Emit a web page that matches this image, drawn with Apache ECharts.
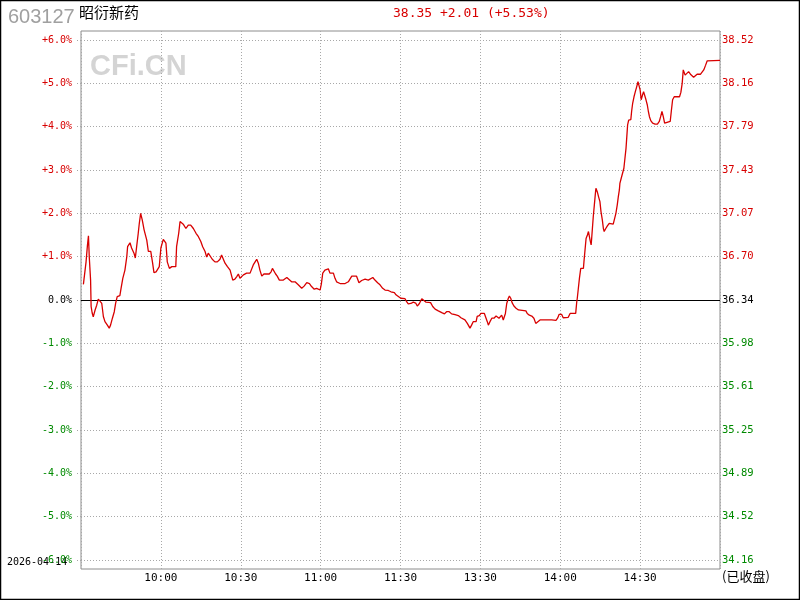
<!DOCTYPE html>
<html>
<head>
<meta charset="utf-8">
<script src="https://cdn.jsdelivr.net/npm/echarts@6/dist/echarts.min.js"></script>
<style>
html,body{margin:0;padding:0;background:#fff;}
#c{width:800px;height:600px;}
</style>
</head>
<body>
<div id="c"></div>
<script>
// ---- data ----
const stockCode = '603127';
const stockName = '昭衍新药';
const quoteText = '38.35 +2.01 (+5.53%)';
const dateText = '2026-04-14';
const statusText = '(已收盘)';
const prevClose = 36.34;

// minutes since 09:30 (trading minutes, 11:30 == 13:00 == 120)
const minutes = [0.9,1.9,2.4,2.8,3.1,3.6,3.8,4.2,4.6,5.3,5.9,6.5,7.1,7.8,8.4,9.0,9.9,10.6,11.1,11.8,12.5,13.0,13.6,14.6,15.0,15.7,16.5,17.2,17.5,18.4,19.0,19.9,20.4,20.9,21.5,21.9,22.4,22.8,23.0,23.7,24.3,24.7,25.3,26.2,26.9,27.4,28.2,28.8,29.4,30.0,30.9,31.5,31.9,32.4,33.2,34.1,34.7,35.6,35.9,36.7,37.2,37.8,38.4,39.4,40.3,41.2,42.2,43.2,44.1,45.0,45.7,46.6,47.2,47.8,48.5,49.3,50.3,51.2,52.2,52.8,53.4,54.1,55.0,56.0,57.0,57.8,58.5,59.1,59.7,60.4,61.0,62.2,63.5,64.1,64.7,65.4,66.0,66.6,67.2,67.9,68.7,70.7,71.4,71.9,72.5,73.1,73.7,74.5,
76.0,77.3,77.9,79.1,80.4,81.6,82.9,83.8,84.8,85.8,86.6,87.6,88.5,89.1,89.8,90.3,90.8,91.6,92.3,92.9,93.5,94.8,95.4,96.0,97.3,99.2,100.4,101.0,101.7,103.5,104.4,105.4,106.7,107.9,108.5,109.6,110.4,111.4,112.3,113.3,114.2,115.4,116.4,117.7,118.3,119.2,120.1,120.8,121.7,122.3,122.9,123.9,124.8,125.7,126.3,127.1,128.0,128.6,129.6,131.3,132.1,133.0,134.2,135.5,136.5,137.3,138.3,139.2,140.5,141.7,142.7,143.4,144.2,145.1,146.1,
146.7,147.3,148.4,148.8,149.6,150.2,150.9,151.5,152.1,152.6,153.0,153.6,154.3,155.1,155.9,156.5,157.0,157.4,158.0,158.6,159.0,159.4,159.9,160.5,160.9,161.4,161.9,162.6,163.4,164.3,164.9,167.1,167.6,168.4,169.3,170.1,170.8,171.4,172.4,176.8,178.4,179.0,179.6,180.5,181.1,181.8,183.0,183.7,185.8,186.2,
186.4,186.8,187.2,187.7,188.7,188.9,189.3,189.7,190.2,190.6,191.2,191.6,191.8,192.4,192.8,193.2,193.4,193.9,194.4,194.9,195.3,195.8,196.2,196.5,197.1,197.7,198.4,199.9,200.6,200.9,201.4,201.8,202.2,202.4,202.9,203.5,203.9,204.3,204.7,205.0,205.3,205.7,206.5,206.8,207.2,207.7,208.2,208.7,209.2,209.6,210.0,210.4,210.9,211.3,211.8,212.2,212.7,213.1,213.5,214.0,214.7,215.6,216.5,217.2,217.7,218.2,218.7,219.2,219.7,221.3,221.7,222.2,222.8,223.5,223.8,224.3,224.8,225.3,225.8,226.2,226.6,226.9,227.6,228.2,228.9,229.5,230.1,230.8,231.4,232.7,233.3,233.9,234.6,235.2,235.8,240];

// change in percent vs previous close
const pcts = [0.36,0.88,1.25,1.48,1.0,0.46,-0.15,-0.3,-0.39,-0.23,-0.12,0.02,0.02,-0.08,-0.38,-0.5,-0.58,-0.65,-0.58,-0.42,-0.27,-0.08,0.08,0.1,0.25,0.5,0.69,1.0,1.23,1.32,1.2,1.08,0.97,1.23,1.54,1.77,2.0,2.04,1.85,1.62,1.58,1.38,1.12,1.12,0.85,0.63,0.65,0.69,0.77,1.2,1.4,1.43,1.31,0.88,0.73,0.77,0.73,0.77,1.23,1.54,1.81,1.83,1.75,1.65,1.73,1.73,1.65,1.54,1.46,1.35,1.23,1.12,0.99,1.08,1.04,0.94,0.88,0.88,0.94,1.04,1.0,0.85,0.77,0.69,0.46,0.48,0.54,0.6,0.5,0.46,0.58,0.62,0.62,0.58,0.81,0.88,0.94,0.85,0.69,0.55,0.6,0.6,0.65,0.73,0.69,0.6,0.55,0.46,
0.46,0.52,0.5,0.42,0.42,0.35,0.27,0.32,0.4,0.38,0.31,0.25,0.27,0.31,0.23,0.38,0.62,0.69,0.73,0.72,0.62,0.62,0.5,0.42,0.38,0.38,0.42,0.42,0.55,0.55,0.4,0.45,0.48,0.46,0.48,0.52,0.46,0.4,0.35,0.27,0.23,0.22,0.19,0.17,0.12,0.08,0.04,0.02,0.03,-0.04,-0.09,-0.08,-0.05,-0.07,-0.14,-0.08,0.03,0.02,-0.05,-0.06,-0.15,-0.21,-0.25,-0.29,-0.32,-0.27,-0.27,-0.32,-0.34,-0.36,-0.41,-0.37,-0.46,-0.54,-0.65,
-0.58,-0.5,-0.5,-0.38,-0.36,-0.31,-0.28,-0.31,-0.35,-0.5,-0.58,-0.5,-0.42,-0.42,-0.37,-0.35,-0.42,-0.46,-0.35,-0.46,-0.5,-0.31,-0.08,0.04,0.09,0.04,-0.06,-0.14,-0.19,-0.23,-0.25,-0.25,-0.31,-0.35,-0.37,-0.42,-0.54,-0.52,-0.46,-0.46,-0.47,-0.42,-0.33,-0.33,-0.41,-0.44,-0.4,-0.31,-0.31,-0.04,
0.04,0.27,0.5,0.73,0.73,0.88,1.15,1.42,1.5,1.58,1.38,1.27,1.42,1.92,2.19,2.46,2.58,2.5,2.38,2.27,2.04,1.85,1.65,1.58,1.65,1.71,1.77,1.75,1.77,2.0,2.19,2.38,2.54,2.69,2.81,2.82,3.04,3.27,3.5,3.77,4.04,4.15,4.16,4.35,4.54,4.69,4.81,4.92,5.04,5.08,4.85,4.62,4.73,4.81,4.77,4.62,4.5,4.35,4.23,4.14,4.08,4.06,4.06,4.12,4.23,4.35,4.23,4.08,4.1,4.12,4.35,4.62,4.69,4.73,4.69,4.65,4.69,4.79,5.0,5.31,5.29,5.19,5.23,5.27,5.21,5.17,5.14,5.15,5.21,5.21,5.17,5.31,5.42,5.52,5.54,5.53];

const timeLabels = ['09:30','10:00','10:30','11:00','11:30','13:30','14:00','14:30','15:00'];
const pctLabels = ['-6.0%','-5.0%','-4.0%','-3.0%','-2.0%','-1.0%','0.0%','+1.0%','+2.0%','+3.0%','+4.0%','+5.0%','+6.0%'];
const priceLabels = ['34.16','34.52','34.89','35.25','35.61','35.98','36.34','36.70','37.07','37.43','37.79','38.16','38.52'];

// ---- chart ----
const RED = '#d80000', GREEN = '#008a00';
const lineData = minutes.map((m, i) => [m, pcts[i]]);
const colorFor = v => v > 0 ? RED : (v < 0 ? GREEN : '#000');
const MONO = '"DejaVu Sans Mono", "Liberation Mono", monospace';

const chart = echarts.init(document.getElementById('c'), null, {renderer: 'canvas'});
chart.setOption({
  animation: false,
  backgroundColor: '#fff',
  grid: [
    {left: 81, right: 80, top: 31, bottom: 31, show: true, borderColor: '#8c8c8c', borderWidth: 1, backgroundColor: 'transparent'},
    {left: 81, right: 80, top: 40, bottom: 40}
  ],
  xAxis: [
    {
      type: 'value', gridIndex: 0, min: 0, max: 240, interval: 30,
      axisLine: {show: false}, axisTick: {show: false},
      splitLine: {show: true, lineStyle: {color: '#a8a8a8', type: [1, 2], width: 1}},
      axisLabel: {
        showMinLabel: false, showMaxLabel: false, margin: 4,
        color: '#000', fontFamily: MONO, fontSize: 11,
        formatter: v => timeLabels[Math.round(v / 30)]
      }
    },
    {type: 'value', gridIndex: 1, min: 0, max: 240, show: false}
  ],
  yAxis: [
    {type: 'value', gridIndex: 0, min: 0, max: 1, show: false},
    {
      type: 'value', gridIndex: 1, min: -6, max: 6, interval: 1, position: 'left',
      axisLine: {show: false},
      axisTick: {show: true, length: 4, lineStyle: {color: '#a8a8a8', type: [1, 2]}},
      splitLine: {show: true, lineStyle: {color: '#a8a8a8', type: [1, 2], width: 1}},
      axisLabel: {
        margin: 9, fontFamily: MONO, fontSize: 10,
        formatter: v => pctLabels[Math.round(v) + 6],
        color: v => colorFor(Math.round(v))
      }
    },
    {
      type: 'value', gridIndex: 1, min: -6, max: 6, interval: 1, position: 'right',
      axisLine: {show: false}, axisTick: {show: false}, splitLine: {show: false},
      axisLabel: {
        margin: 2, fontFamily: MONO, fontSize: 10.5,
        formatter: v => priceLabels[Math.round(v) + 6],
        color: v => colorFor(Math.round(v))
      }
    }
  ],
  graphic: [
    {type: 'rect', silent: true, z: 100, shape: {x: 0.5, y: 0.5, width: 799, height: 599},
      style: {fill: 'none', stroke: '#000', lineWidth: 1.5}},
    {type: 'text', left: 8, top: 7, style: {text: stockCode, fill: '#a0a0a0', font: '20px "Liberation Sans", Arial, sans-serif'}},
    {type: 'text', left: 79, top: 5, style: {text: stockName, fill: '#000', font: '15px "Noto Sans CJK SC", sans-serif'}},
    {type: 'text', left: 393, top: 7, style: {text: quoteText, fill: RED, font: '13px ' + MONO}},
    {type: 'text', left: 90, top: 52, z: 0, style: {text: 'CFi.CN', fill: '#d4d4d4', font: 'bold 29px "Liberation Sans", Arial, sans-serif'}},
    {type: 'text', left: 7, top: 557, style: {text: dateText, fill: '#000', font: '10px ' + MONO}},
    {type: 'text', left: 722, top: 570, style: {text: statusText, fill: '#000', font: '13px "Noto Sans CJK SC", sans-serif'}}
  ],
  series: [{
    type: 'line', xAxisIndex: 1, yAxisIndex: 1,
    data: lineData, showSymbol: false, symbol: 'none',
    lineStyle: {color: RED, width: 1.3}, z: 5,
    markLine: {
      silent: true, symbol: 'none', label: {show: false},
      lineStyle: {color: '#000', type: 'solid', width: 1},
      data: [{yAxis: 0}], animation: false
    }
  }]
});
</script>
</body>
</html>
